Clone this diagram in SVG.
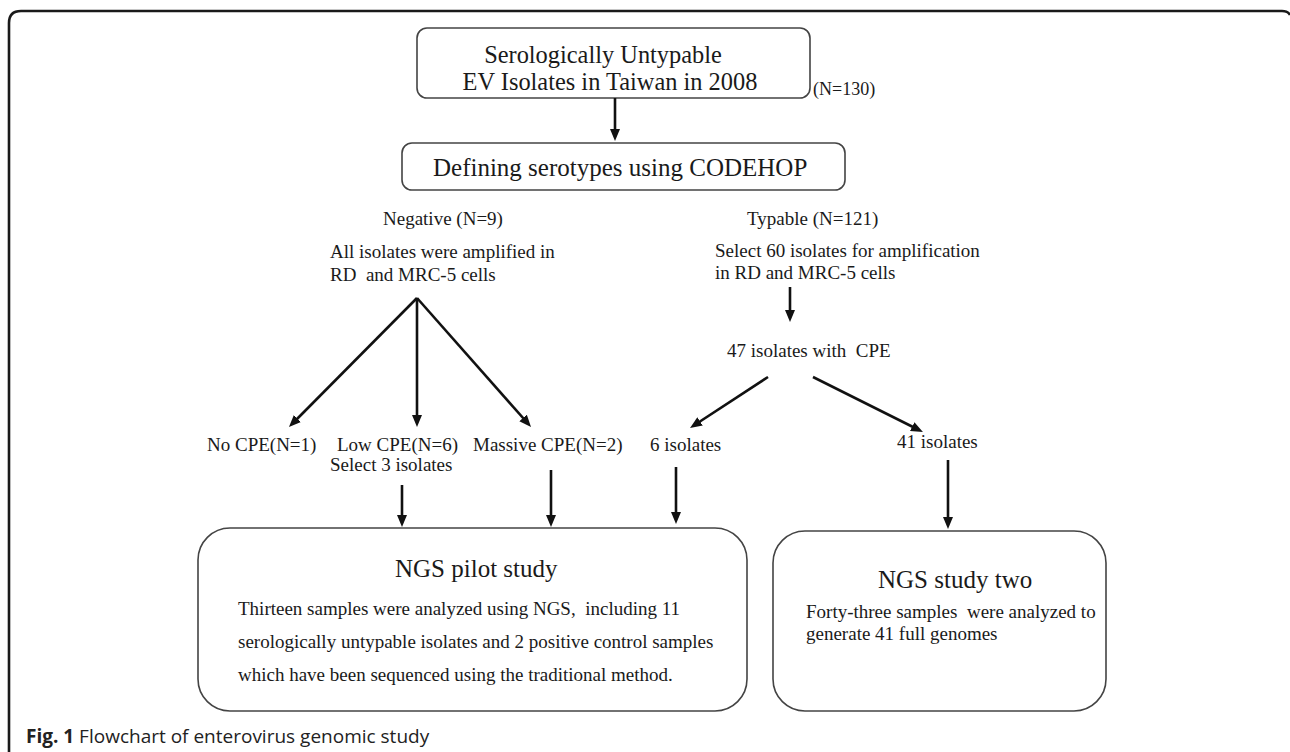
<svg xmlns="http://www.w3.org/2000/svg" width="1290" height="752" viewBox="0 0 1290 752">
<defs>
<style>
.box{fill:#fff;stroke:#444;stroke-width:1.6}
.t{font-family:"Liberation Serif","Times New Roman",serif;fill:#1a1a1a;white-space:pre}
.big{font-size:25px}
.lab{font-size:19px}
.cap{font-family:"Open Sans","Noto Sans",sans-serif;font-size:19px;fill:#222}
.ln{stroke:#111;stroke-width:2.6;fill:none}
.frame{stroke:#1a1a1a;stroke-width:2.6;fill:none}
</style>
<marker id="ah" viewBox="0 0 12 10" refX="2" refY="5" markerWidth="12" markerHeight="10" markerUnits="userSpaceOnUse" orient="auto">
<path d="M0,0 L12,5 L0,10 z" fill="#111"/>
</marker>
</defs>
<rect width="1290" height="752" fill="#fff"/>
<path class="frame" d="M9,752 V23 Q9,11 21,11 H1282 Q1288,11 1290,15"/>

<g id="n-source">
<rect class="box" x="417" y="28" width="393" height="70" rx="10"/>
<text class="t" font-size="24.4" x="603" y="63" text-anchor="middle">Serologically Untypable</text>
<text class="t" font-size="24.4" x="610" y="90" text-anchor="middle">EV Isolates in Taiwan in 2008</text>
<text class="t" x="813" y="95" font-size="18">(N=130)</text>
</g>

<g id="n-codehop">
<rect class="box" x="402" y="143" width="443" height="47" rx="10"/>
<text class="t big" x="433" y="176">Defining serotypes using CODEHOP</text>
</g>

<g id="n-negative">
<text class="t lab" x="383" y="225">Negative (N=9)</text>
<text class="t lab" x="330" y="258">All isolates were amplified in</text>
<text class="t lab" x="330" y="281">RD  and MRC-5 cells</text>
</g>

<g id="n-typable">
<text class="t lab" x="747" y="225">Typable (N=121)</text>
<text class="t lab" x="715" y="257">Select 60 isolates for amplification</text>
<text class="t lab" x="715" y="279">in RD and MRC-5 cells</text>
</g>

<g id="n-cpe47">
<text class="t lab" x="727" y="357">47 isolates with  CPE</text>
</g>

<g id="n-nocpe">
<text class="t lab" x="207" y="451">No CPE(N=1)</text>
</g>
<g id="n-lowcpe">
<text class="t lab" x="337" y="451">Low CPE(N=6)</text>
<text class="t lab" x="330" y="471">Select 3 isolates</text>
</g>
<g id="n-massive">
<text class="t lab" x="473" y="451">Massive CPE(N=2)</text>
</g>
<g id="n-six">
<text class="t lab" x="650" y="451">6 isolates</text>
</g>
<g id="n-fortyone">
<text class="t lab" x="897" y="448">41 isolates</text>
</g>

<g id="n-pilot">
<rect class="box" x="198" y="528" width="549" height="183" rx="32"/>
<text class="t big" x="395" y="577">NGS pilot study</text>
<text class="t lab" x="238" y="615">Thirteen samples were analyzed using NGS,  including 11</text>
<text class="t lab" x="238" y="648">serologically untypable isolates and 2 positive control samples</text>
<text class="t lab" x="238" y="681">which have been sequenced using the traditional method.</text>
</g>

<g id="n-two">
<rect class="box" x="773" y="531" width="333" height="180" rx="32"/>
<text class="t big" x="878" y="588">NGS study two</text>
<text class="t lab" x="806" y="618">Forty-three samples  were analyzed to</text>
<text class="t lab" x="806" y="640">generate 41 full genomes</text>
</g>

<g id="connectors">
<line class="ln" x1="615" y1="98" x2="615" y2="131" marker-end="url(#ah)"/>
<line class="ln" x1="417" y1="298" x2="296" y2="420" marker-end="url(#ah)"/>
<line class="ln" x1="417" y1="298" x2="417" y2="417" marker-end="url(#ah)"/>
<line class="ln" x1="417" y1="298" x2="524.4" y2="419.5" marker-end="url(#ah)"/>
<line class="ln" x1="790" y1="287" x2="790" y2="312" marker-end="url(#ah)"/>
<line class="ln" x1="768" y1="377" x2="698.4" y2="422.5" marker-end="url(#ah)"/>
<line class="ln" x1="813" y1="377" x2="914" y2="427.5" marker-end="url(#ah)"/>
<line class="ln" x1="402" y1="485" x2="402" y2="517" marker-end="url(#ah)"/>
<line class="ln" x1="551" y1="470" x2="551" y2="517" marker-end="url(#ah)"/>
<line class="ln" x1="676" y1="467" x2="676" y2="514" marker-end="url(#ah)"/>
<line class="ln" x1="948" y1="460" x2="948" y2="519" marker-end="url(#ah)"/>
</g>

<g id="caption">
<text class="cap" x="26" y="743"><tspan font-weight="bold">Fig. 1</tspan> Flowchart of enterovirus genomic study</text>
</g>
</svg>
